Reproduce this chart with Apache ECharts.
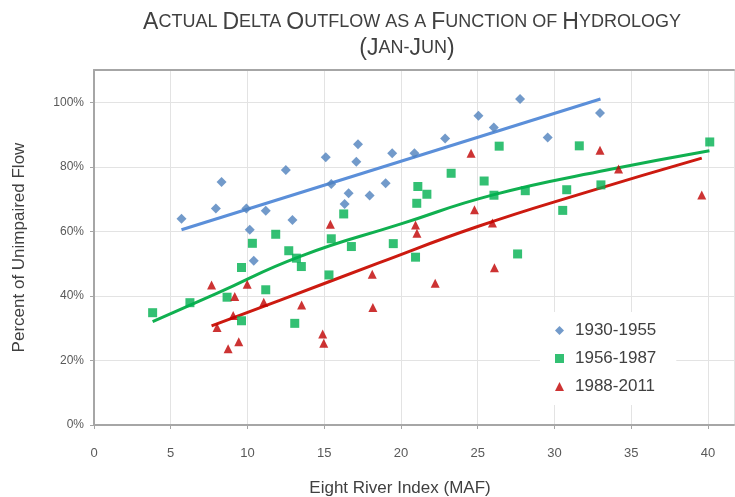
<!DOCTYPE html>
<html><head><meta charset="utf-8">
<script src="https://cdn.jsdelivr.net/npm/echarts@6/dist/echarts.min.js"></script>
<style>html,body{margin:0;padding:0;background:#fff}#c{width:735px;height:497px}</style>
</head><body><div id="c"></div>
<script>
const titleLine1 = 'Actual Delta Outflow as a Function of Hydrology';
const titleLine2 = '(Jan-Jun)';
const xAxisName = 'Eight River Index (MAF)';
const yAxisName = 'Percent of Unimpaired Flow';
const seriesNames = ['1930-1955', '1956-1987', '1988-2011'];

// [Eight River Index (MAF), Percent of unimpaired flow]
const points1930 = [[5.7,63.9],[7.94,67.1],[8.31,75.3],[9.93,67.1],[10.15,60.5],[10.41,50.9],[11.19,66.4],[12.5,79.0],[12.93,63.5],[15.1,83.0],[15.46,74.7],[16.33,68.5],[16.59,71.8],[17.09,81.6],[17.2,87.0],[17.96,71.1],[19.0,74.9],[19.43,84.2],[20.88,84.2],[22.88,88.8],[25.05,95.8],[26.05,92.2],[27.76,101.0],[29.56,89.1],[32.97,96.7]];
const points1956 = [[3.82,34.8],[6.25,37.9],[8.67,39.6],[9.61,32.3],[9.61,48.8],[10.32,56.3],[11.19,41.9],[11.84,59.1],[12.69,54.0],[13.08,31.5],[13.19,51.7],[13.51,49.1],[15.31,46.5],[15.46,57.7],[16.27,65.4],[16.77,55.3],[19.5,56.2],[20.95,52.0],[21.03,68.7],[21.1,73.9],[21.69,71.5],[23.27,78.0],[25.42,75.6],[26.06,71.2],[26.4,86.4],[27.6,53.0],[28.1,72.6],[30.54,66.5],[30.8,72.9],[31.62,86.5],[33.03,74.4],[40.12,87.7]];
const points1988 = [[7.66,43.4],[8.02,30.2],[8.74,23.6],[9.07,33.9],[9.17,39.8],[9.43,25.8],[9.98,43.6],[11.06,38.0],[13.53,37.2],[14.9,28.2],[14.97,25.3],[15.4,62.2],[18.13,46.7],[18.17,36.4],[20.95,62.0],[21.04,59.4],[22.23,43.9],[24.57,84.2],[24.79,66.7],[25.96,62.6],[26.09,48.7],[32.97,85.1],[34.18,79.3],[39.6,71.3]];

// trend lines
const trend1930 = [[5.7,60.5],[33.0,101.0]];
const trend1956 = [[3.82,32.0],[8,40.8],[13.4,52.2],[20,62.3],[26,71.3],[33,78.6],[40.1,85.0]];
const trend1988 = [[7.66,30.7],[12.1,38.6],[18.6,50.3],[25.0,61.5],[32,72.0],[39.6,82.7]];

const xTicks = {min: 0, max: 41.7, interval: 5};
const yTicks = {min: 0, max: 110, interval: 20};

const colors = ['#4f81bd', '#00b050', '#c00000'];
const lineColors = ['#5b8fd9', '#10b050', '#cc1a10'];

function smallCaps(s) {
  let out = '', cur = null, buf = '';
  for (const ch of s) {
    const style = (/[A-Z(]/.test(ch) || ch === ')') ? 'b' : 's';
    if (style !== cur) { if (buf) out += '{' + cur + '|' + buf + '}'; buf = ''; cur = style; }
    buf += ch.toUpperCase();
  }
  if (buf) out += '{' + cur + '|' + buf + '}';
  return out;
}

const font = 'Liberation Sans, Arial, sans-serif';
const chart = echarts.init(document.getElementById('c'), null, {renderer: 'canvas'});
const tStyle = {
  b: {fontSize: 23, color: '#404040', fontFamily: font, fontWeight: 'normal'},
  s: {fontSize: 18, color: '#404040', fontFamily: font, fontWeight: 'normal'}
};
const axisGray = '#a6a6a6';
chart.setOption({
  animation: false,
  backgroundColor: '#fff',
  title: [
    {text: smallCaps(titleLine1), left: 407, top: 6, textAlign: 'center', textStyle: {rich: tStyle, fontWeight: 'normal'}},
    {text: smallCaps(titleLine2), left: 402, top: 32, textAlign: 'center', textStyle: {rich: tStyle, fontWeight: 'normal'}}
  ],
  grid: {left: 94, top: 70, right: 1, bottom: 72, show: false, outerBoundsMode: 'none', containLabel: false},
  xAxis: [{
    type: 'value', min: xTicks.min, max: xTicks.max, interval: xTicks.interval,
    name: xAxisName, nameLocation: 'middle', nameGap: 55,
    nameTextStyle: {fontSize: 17, color: '#404040', fontFamily: font, padding: [0, 28, 0, 0]},
    axisLine: {show: true, lineStyle: {color: axisGray, width: 2}},
    axisTick: {show: true, length: 4, lineStyle: {color: axisGray}},
    axisLabel: {margin: 22, fontSize: 13, color: '#595959', fontFamily: font, showMaxLabel: false},
    splitLine: {show: true, lineStyle: {color: '#e3e3e3'}}
  }, {
    type: 'value', position: 'top', min: xTicks.min, max: xTicks.max, interval: xTicks.interval,
    axisLine: {show: true, lineStyle: {color: axisGray, width: 2}},
    axisTick: {show: false}, axisLabel: {show: false}, splitLine: {show: false}
  }],
  yAxis: {
    type: 'value', min: yTicks.min, max: yTicks.max, interval: yTicks.interval,
    name: yAxisName, nameLocation: 'middle', nameGap: 66,
    nameTextStyle: {fontSize: 17, color: '#404040', fontFamily: font},
    axisLine: {show: true, lineStyle: {color: axisGray, width: 2}},
    axisTick: {show: true, length: 4, lineStyle: {color: axisGray}},
    axisLabel: {margin: 10, fontSize: 12, color: '#595959', fontFamily: font, formatter: '{value}%', showMaxLabel: false},
    splitLine: {show: true, lineStyle: {color: '#e3e3e3'}}
  },
  legend: {
    data: seriesNames, orient: 'vertical', left: 540, top: 312,
    padding: [10, 20, 10, 15], itemGap: 11, itemWidth: 9, itemHeight: 9,
    backgroundColor: '#fff',
    textStyle: {fontSize: 17, color: '#404040', fontFamily: font, padding: [0, 0, 0, 6]}
  },
  series: [
    {type: 'line', data: trend1930, showSymbol: false, smooth: false, lineStyle: {color: lineColors[0], width: 3}, z: 1, silent: true},
    {type: 'line', data: trend1956, showSymbol: false, smooth: true, lineStyle: {color: lineColors[1], width: 3}, z: 1, silent: true},
    {type: 'line', data: trend1988, showSymbol: false, smooth: true, lineStyle: {color: lineColors[2], width: 3}, z: 1, silent: true},
    {name: seriesNames[0], type: 'scatter', data: points1930, symbol: 'diamond', symbolSize: 10, itemStyle: {color: colors[0]}, z: 3},
    {name: seriesNames[1], type: 'scatter', data: points1956, symbol: 'rect', symbolSize: 9, itemStyle: {color: colors[1]}, z: 3},
    {name: seriesNames[2], type: 'scatter', data: points1988, symbol: 'triangle', symbolSize: 9, itemStyle: {color: colors[2]}, z: 3}
  ]
});
</script></body></html>
